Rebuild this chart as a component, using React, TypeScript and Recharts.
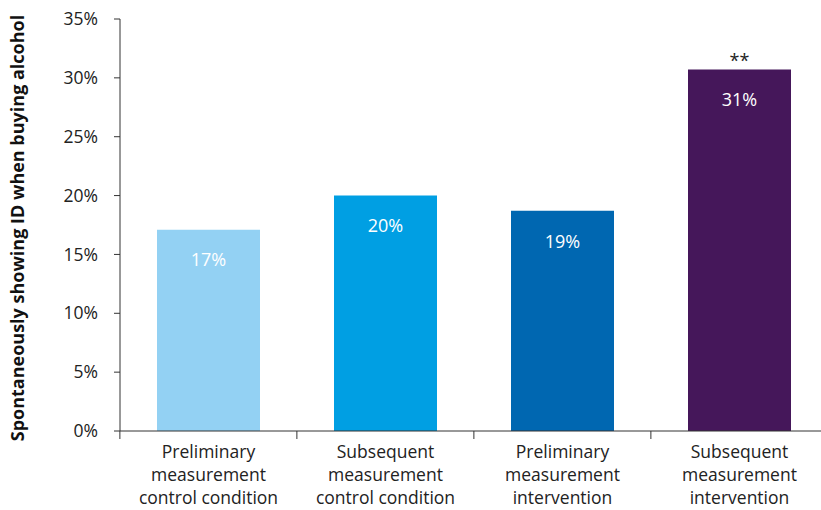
import { Bar, BarChart, Cell, LabelList, XAxis, YAxis } from "recharts";

const categories = [
  ["Preliminary", "measurement", "control condition"],
  ["Subsequent", "measurement", "control condition"],
  ["Preliminary", "measurement", "intervention"],
  ["Subsequent", "measurement", "intervention"],
];
const shares = [17.1, 20.0, 18.7, 30.7];
const significance = ["", "", "", "**"];
const barColors = ["#93d1f3", "#009fe3", "#0067b1", "#45175a"];
const yTicks = [0, 5, 10, 15, 20, 25, 30, 35];

const data = categories.map((lines, i) => ({
  name: lines.join(" "),
  lines,
  value: shares[i],
  sig: significance[i],
}));

const FONT = "'Open Sans', sans-serif";
const CHART_W = 828;
const AXIS_W = 119;
const BAND = (CHART_W - AXIS_W) / categories.length;

function CategoryTick(props: any) {
  const { x, y, index } = props;
  const lines: string[] = data[index]?.lines ?? [];
  return (
    <g>
      <line x1={x - BAND / 2} x2={x - BAND / 2} y1={y} y2={y + 8} stroke="#333" />
      {lines.map((l, i) => (
        <text
          key={i}
          x={x}
          y={y + 27 + i * 23}
          textAnchor="middle"
          fontSize={17.5}
          fontFamily={FONT}
          fill="#222"
        >
          {l}
        </text>
      ))}
    </g>
  );
}

export default function App() {
  return (
    <div
      style={{
        position: "absolute",
        left: 0,
        top: 0,
        width: 821,
        height: 510,
        overflow: "hidden",
        background: "#fff",
      }}
    >
      <BarChart
        width={CHART_W}
        height={510}
        data={data}
        margin={{ top: 19, right: 0, bottom: 0, left: 1 }}
      >
        <XAxis
          dataKey="name"
          height={79}
          interval={0}
          tickLine={false}
          tickSize={0}
          tickMargin={0}
          axisLine={{ stroke: "#333" }}
          tick={<CategoryTick />}
        />
        <YAxis
          width={AXIS_W}
          domain={[0, 35]}
          ticks={yTicks}
          interval={0}
          tickSize={6}
          tickMargin={16}
          tickFormatter={(v: number) => `${v}%`}
          axisLine={{ stroke: "#333" }}
          tickLine={{ stroke: "#333" }}
          tick={{ fontSize: 17.5, fontFamily: FONT, fill: "#222" }}
          label={{
            content: () => (
              <text
                transform="translate(24, 228) rotate(-90)"
                textAnchor="middle"
                fontSize={18}
                fontWeight="bold"
                fontFamily={FONT}
                fill="#111"
              >
                Spontaneously showing ID when buying alcohol
              </text>
            ),
          }}
        />
        <Bar dataKey="value" barSize={103} isAnimationActive={false}>
          {data.map((d, i) => (
            <Cell key={d.name} fill={barColors[i]} />
          ))}
          <LabelList
            dataKey="value"
            position="insideTop"
            offset={24}
            fill="#fff"
            fontSize={18}
            fontFamily={FONT}
            formatter={(v: any) => `${Math.round(Number(v))}%`}
          />
          <LabelList
            dataKey="sig"
            position="top"
            offset={3}
            fill="#222"
            fontSize={18}
            fontFamily={FONT}
          />
        </Bar>
      </BarChart>
    </div>
  );
}
